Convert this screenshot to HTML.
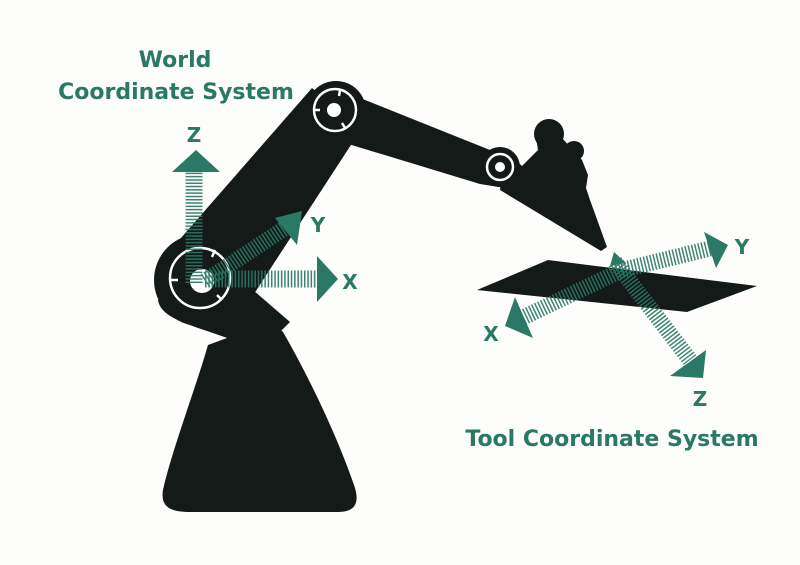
<!DOCTYPE html>
<html><head><style>
html,body{margin:0;padding:0;background:#fdfdfb;}
svg{display:block}
text{font-family:"DejaVu Sans","Liberation Sans",sans-serif;font-weight:bold;fill:#2a7866}
</style></head><body>
<svg width="800" height="565" viewBox="0 0 800 565">
<rect width="800" height="565" fill="#fdfdfb"/>
<g fill="#141a17">
<path d="M208,345 C195,390 172,450 163,490 C160,508 172,512 190,512 L338,512 C356,512 360,502 354,485 C335,430 305,370 283,332 L270,322 Z"/>
<path d="M158,300 L195,240 L290,322 L262,350 L210,332 C180,322 160,315 158,300 Z"/>
<circle cx="200" cy="280" r="46"/>
<path d="M160,262 L312,88 L362,128 L250,300 Z"/>
<circle cx="336" cy="111" r="30"/>
<path d="M325,84 L490,150 L505,152 L505,188 L480,184 L345,143 Z"/>
<circle cx="500" cy="167" r="20"/>
<circle cx="549" cy="134" r="15"/>
<circle cx="574" cy="151" r="10"/>
<polygon points="505,150 522,166 538,150 536,138 562,138 582,160 588,175 586,188 590,200 607,247 601,251 500,190"/>
<polygon points="477,290 548,260 757,286 687,312"/>
</g>
<g fill="none" stroke="#fff" stroke-width="2.5">
<circle cx="200" cy="278" r="30"/>
<circle cx="335" cy="110" r="21"/>
<circle cx="500" cy="167" r="13"/>
<line x1="171" y1="280" x2="178" y2="280"/><line x1="215" y1="250" x2="212" y2="257"/><line x1="222" y1="300" x2="217" y2="295"/>
<line x1="340" y1="90" x2="339" y2="96"/><line x1="345" y1="128" x2="342" y2="123"/><line x1="314" y1="110" x2="320" y2="110"/>
</g>
<g fill="#fff"><circle cx="202" cy="281" r="12"/><circle cx="334" cy="110" r="7"/><circle cx="500" cy="167" r="5"/></g>
<g stroke="#2a7866" stroke-dasharray="1.5 1.8" opacity="0.9">
<line x1="194" y1="283" x2="194" y2="172" stroke-width="17"/>
<line x1="205" y1="279" x2="318" y2="279" stroke-width="17"/>
<line x1="205" y1="281" x2="285" y2="228" stroke-width="16"/>
<line x1="622" y1="270" x2="712" y2="248" stroke-width="16"/>
<line x1="622" y1="270" x2="522" y2="318" stroke-width="16"/>
<line x1="615" y1="262" x2="690" y2="360" stroke-width="16"/>
</g>
<g fill="#2a7866">
<polygon points="172,172 220,172 196,150"/>
<polygon points="317,256 317,302 338,279"/>
<polygon points="275,218 302,211 297,245"/>
<polygon points="704,232 728,245 716,268"/>
<polygon points="515,297 505,326 533,338"/>
<polygon points="670,376 706,350 703,378"/>
<polygon points="610,266 614,252 626,263"/>
</g>
<text x="175" y="67" font-size="22" text-anchor="middle">World</text>
<text x="176" y="99" font-size="22" text-anchor="middle">Coordinate System</text>
<text x="194" y="142" font-size="20" text-anchor="middle">Z</text>
<text x="350" y="289" font-size="20" text-anchor="middle">X</text>
<text x="318" y="232" font-size="20" text-anchor="middle">Y</text>
<text x="742" y="254" font-size="20" text-anchor="middle">Y</text>
<text x="491" y="341" font-size="20" text-anchor="middle">X</text>
<text x="700" y="406" font-size="20" text-anchor="middle">Z</text>
<text x="612" y="446" font-size="22" text-anchor="middle">Tool Coordinate System</text>
</svg>
</body></html>
